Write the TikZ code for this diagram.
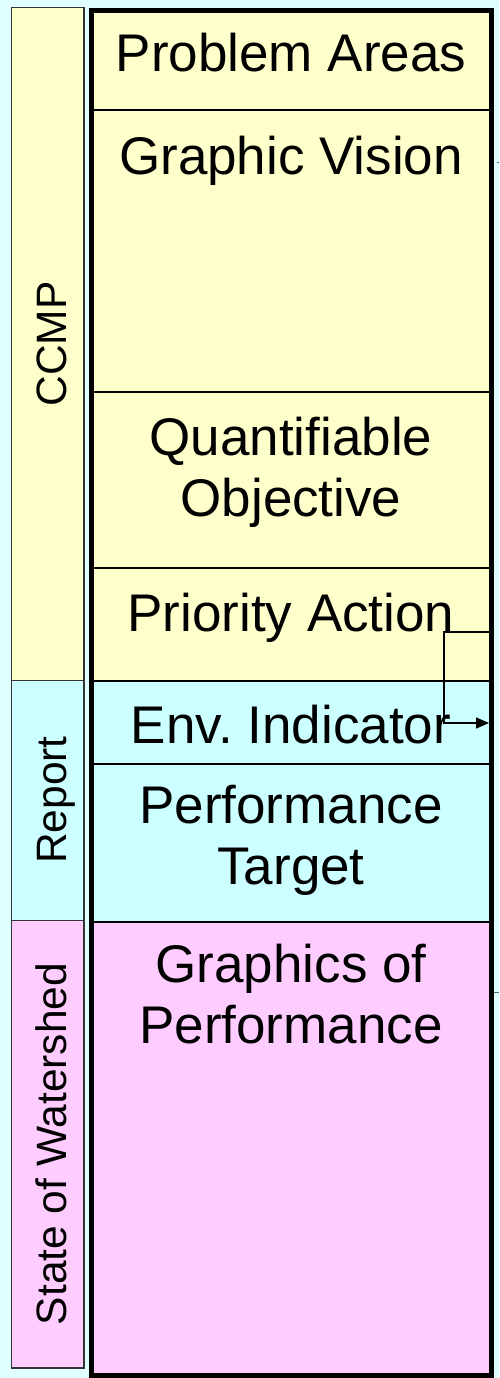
\documentclass[tikz,border=0pt]{standalone}
\usepackage{fontspec}
\setmainfont{Liberation Sans}
\usetikzlibrary{arrows.meta}
\definecolor{bgcyan}{RGB}{224,255,255}
\definecolor{paleyellow}{RGB}{255,255,204}
\definecolor{palecyan}{RGB}{204,255,255}
\definecolor{palepink}{RGB}{255,204,255}

\begin{document}
\begin{tikzpicture}[x=1pt,y=-1pt,
    rowtext/.style={font=\fontsize{53}{61}\selectfont, align=center, inner sep=0pt},
    sidetext/.style={font=\fontsize{42.5}{50}\selectfont, rotate=90, inner sep=0pt, anchor=base}]
        % background
        \fill[bgcyan] (0,0) rectangle (499,1378);
        \useasboundingbox (0,0) rectangle (499,1378);

        % side column
        \filldraw[fill=paleyellow, draw=black!80, line width=1.5pt] (11.5,7.5) rectangle (84,680.5);
        \filldraw[fill=palecyan, draw=black!80, line width=1.5pt] (11.5,680.5) rectangle (84,920.5);
        \filldraw[fill=palepink, draw=black!80, line width=1.5pt] (11.5,920.5) rectangle (84,1368);
        \node[sidetext] (ccmp) at (66,344) {CCMP};
        \node[sidetext] (report) at (66,800) {Report};
        \node[sidetext] (watershed) at (66,1144) {State of Watershed};

        % main column
        \fill[paleyellow] (91,11) rectangle (491,681);
        \fill[palecyan] (91,681) rectangle (491,922);
        \fill[palepink] (91,922) rectangle (491,1375.5);
        \foreach \yy in {110,392,568,681,764,922}
            \draw[line width=2pt] (91,\yy) -- (491,\yy);
        \draw[line width=5pt] (91,10.5) rectangle (491,1375.5);

        \node[rowtext, anchor=base] (probareas) at (291,72) {Problem Areas};
        \node[rowtext, anchor=base] (gvision) at (291,174) {Graphic Vision};
        \node[rowtext] (quantobj) at (291,472) {Quantifiable\\Objective};
        \node[rowtext, anchor=base] (prioaction) at (291,631) {Priority Action};
        \node[rowtext, anchor=base] (envind) at (291,743) {Env.\ Indicator};
        \node[rowtext] (perftarget) at (291,840) {Performance\\Target};
        \node[rowtext] (graphperf) at (291,994) {Graphics of\\Performance};

        % link action -> indicator
        \coordinate (actout) at (491,632);
        \coordinate (indin) at (489,723);
        \draw[line width=1.3pt, -{Triangle[length=13pt,width=11pt]}] (actout) -- (444,632) |- (indin);

        % stubs leaving the frame
        \draw[black!60, line width=1pt] (497,162) -- (499,162);
        \draw[black!60, line width=1pt] (493.5,992) -- (499,992);
    \end{tikzpicture}
\end{document}
